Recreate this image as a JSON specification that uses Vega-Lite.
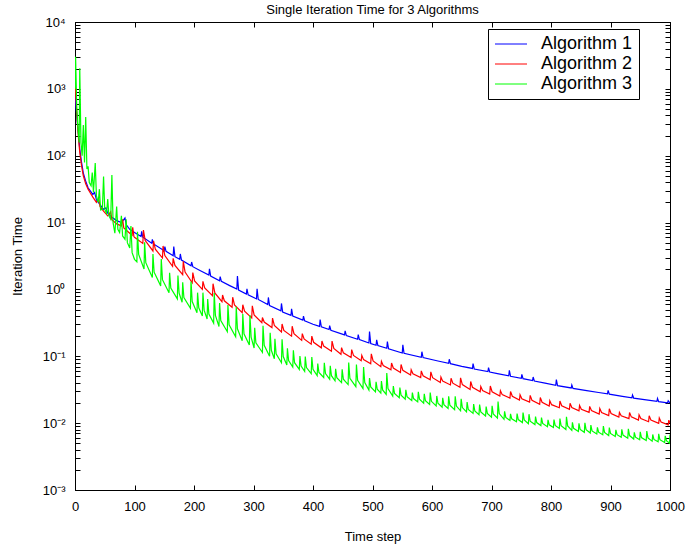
{
  "$schema": "https://vega.github.io/schema/vega-lite/v6.json",
  "autosize": "none",
  "width": 595,
  "height": 468,
  "padding": {"left": 75, "top": 22, "right": 16, "bottom": 58},
  "background": "white",
  "title": {"text": "Single Iteration Time for 3 Algorithms", "font": "Liberation Sans", "fontSize": 13, "fontWeight": "normal", "color": "black", "offset": -1},
  "datasets": {
    "a1": [
      {"t":0,"v":794},{"t":2,"v":501},{"t":4,"v":309},{"t":6,"v":200},{"t":8,"v":126},{"t":11,"v":79.4},{"t":14,"v":55.0},{"t":18,"v":41.7},{"t":22,"v":33.1},{"t":26,"v":29.5},{"t":30,"v":26.3},{"t":33,"v":28.2},{"t":36,"v":21.9},{"t":42,"v":18.6},{"t":48,"v":15.8},{"t":52,"v":16.6},{"t":55,"v":13.8},{"t":62,"v":12.0},{"t":70,"v":10.7},{"t":78,"v":10.0},{"t":84,"v":11.7},{"t":86,"v":9.33},{"t":92,"v":7.94},{"t":100,"v":7.08},
      {"t":111,"v":6.17},{"t":112,"v":7.41},{"t":114,"v":6.03},{"t":129,"v":4.90},{"t":130,"v":5.62},{"t":132,"v":4.79},{"t":150,"v":3.80},{"t":151,"v":4.37},{"t":153,"v":3.72},{"t":165,"v":3.20},{"t":166,"v":4.37},{"t":168,"v":3.09},{"t":176,"v":2.82},{"t":177,"v":3.39},{"t":179,"v":2.75},{"t":195,"v":2.26},{"t":196,"v":2.57},{"t":198,"v":2.19},{"t":210,"v":1.92},{"t":225,"v":1.64},{"t":226,"v":2.04},{"t":228,"v":1.58},{"t":243,"v":1.35},{"t":244,"v":1.55},{"t":246,"v":1.32},{"t":260,"v":1.14},{"t":272,"v":1.01},{"t":273,"v":1.58},{"t":275,"v":0.977},{"t":288,"v":0.851},{"t":289,"v":1.02},{"t":291,"v":0.832},
      {"t":305,"v":0.721},{"t":306,"v":1.02},{"t":308,"v":0.708},{"t":324,"v":0.594},{"t":325,"v":0.759},{"t":327,"v":0.575},{"t":346,"v":0.479},{"t":347,"v":0.617},{"t":349,"v":0.457},{"t":363,"v":0.410},{"t":364,"v":0.513},{"t":366,"v":0.398},{"t":383,"v":0.347},{"t":384,"v":0.398},{"t":386,"v":0.339},{"t":400,"v":0.302},{"t":411,"v":0.280},{"t":412,"v":0.355},{"t":414,"v":0.275},{"t":427,"v":0.251},{"t":428,"v":0.288},{"t":430,"v":0.245},{"t":453,"v":0.209},{"t":454,"v":0.240},{"t":456,"v":0.204},{"t":475,"v":0.180},{"t":476,"v":0.211},{"t":478,"v":0.178},{"t":494,"v":0.158},{"t":495,"v":0.234},{"t":497,"v":0.155},
      {"t":506,"v":0.146},{"t":507,"v":0.176},{"t":509,"v":0.145},{"t":524,"v":0.132},{"t":525,"v":0.166},{"t":527,"v":0.129},{"t":550,"v":0.112},{"t":551,"v":0.148},{"t":553,"v":0.111},{"t":582,"v":0.0968},{"t":583,"v":0.117},{"t":585,"v":0.0955},{"t":610,"v":0.0851},{"t":628,"v":0.0783},{"t":629,"v":0.0902},{"t":631,"v":0.0776},{"t":650,"v":0.0708},{"t":668,"v":0.0658},{"t":669,"v":0.0776},{"t":671,"v":0.0646},{"t":694,"v":0.0590},{"t":695,"v":0.0676},{"t":697,"v":0.0582},
      {"t":710,"v":0.0552},{"t":729,"v":0.0511},{"t":730,"v":0.0617},{"t":732,"v":0.0501},{"t":750,"v":0.0468},{"t":751,"v":0.0537},{"t":753,"v":0.0462},{"t":769,"v":0.0433},{"t":770,"v":0.0490},{"t":772,"v":0.0427},{"t":790,"v":0.0398},{"t":808,"v":0.0369},{"t":809,"v":0.0447},{"t":811,"v":0.0363},{"t":834,"v":0.0336},{"t":835,"v":0.0372},{"t":837,"v":0.0331},{"t":860,"v":0.0306},{"t":880,"v":0.0287},{"t":895,"v":0.0274},{"t":896,"v":0.0309},{"t":898,"v":0.0271},
      {"t":920,"v":0.0252},{"t":936,"v":0.0240},{"t":937,"v":0.0263},{"t":939,"v":0.0237},{"t":960,"v":0.0223},{"t":978,"v":0.0212},{"t":979,"v":0.0234},{"t":981,"v":0.0210},{"t":996,"v":0.0202},{"t":997,"v":0.0216},{"t":1000,"v":0.0200}
    ],
    "a2": [
      {"t":0,"v":1259},{"t":2,"v":631},{"t":4,"v":316},{"t":6,"v":178},{"t":8,"v":112},{"t":11,"v":70.8},{"t":14,"v":50.1},{"t":18,"v":38.0},{"t":22,"v":31.6},{"t":26,"v":27.5},{"t":30,"v":24.0},{"t":36,"v":20.0},{"t":40,"v":22.9},{"t":42,"v":17.4},{"t":48,"v":14.8},{"t":55,"v":12.6},{"t":60,"v":14.5},{"t":62,"v":11.0},{"t":70,"v":9.55},{"t":78,"v":8.91},{"t":80,"v":11.2},{"t":82,"v":8.32},{"t":92,"v":6.92},{"t":96,"v":6.46},{"t":97,"v":8.51},{"t":99,"v":6.17},{"t":100,"v":6.03},
      {"t":114,"v":4.88},{"t":115,"v":7.73},{"t":118,"v":5.38},{"t":131,"v":3.76},{"t":132,"v":5.31},{"t":135,"v":4.00},{"t":147,"v":2.95},{"t":148,"v":4.47},{"t":151,"v":3.21},{"t":164,"v":2.22},{"t":165,"v":2.92},{"t":168,"v":2.29},{"t":181,"v":1.66},{"t":182,"v":2.64},{"t":185,"v":1.82},{"t":197,"v":1.26},{"t":198,"v":1.79},{"t":201,"v":1.34},
      {"t":214,"v":1.00},{"t":215,"v":1.32},{"t":218,"v":1.05},{"t":231,"v":0.805},{"t":232,"v":1.22},{"t":235,"v":0.885},{"t":247,"v":0.656},{"t":248,"v":0.826},{"t":251,"v":0.676},{"t":264,"v":0.541},{"t":265,"v":0.764},{"t":268,"v":0.585},{"t":281,"v":0.448},{"t":282,"v":0.590},{"t":285,"v":0.472},{"t":297,"v":0.375},{"t":298,"v":0.568},{"t":301,"v":0.416},
      {"t":314,"v":0.317},{"t":315,"v":0.381},{"t":318,"v":0.325},{"t":331,"v":0.269},{"t":332,"v":0.372},{"t":335,"v":0.290},{"t":347,"v":0.231},{"t":348,"v":0.304},{"t":351,"v":0.244},{"t":364,"v":0.200},{"t":365,"v":0.282},{"t":368,"v":0.218},{"t":381,"v":0.173},{"t":382,"v":0.218},{"t":385,"v":0.182},{"t":397,"v":0.152},{"t":398,"v":0.200},{"t":401,"v":0.162},
      {"t":414,"v":0.134},{"t":415,"v":0.169},{"t":418,"v":0.142},{"t":431,"v":0.119},{"t":432,"v":0.169},{"t":435,"v":0.131},{"t":447,"v":0.107},{"t":448,"v":0.135},{"t":451,"v":0.113},{"t":464,"v":0.0957},{"t":465,"v":0.126},{"t":468,"v":0.103},{"t":481,"v":0.0857},{"t":482,"v":0.103},{"t":485,"v":0.0891},{"t":497,"v":0.0773},{"t":498,"v":0.109},{"t":501,"v":0.0851},
      {"t":514,"v":0.0698},{"t":515,"v":0.0839},{"t":518,"v":0.0726},{"t":531,"v":0.0630},{"t":532,"v":0.0793},{"t":535,"v":0.0667},{"t":547,"v":0.0573},{"t":548,"v":0.0755},{"t":551,"v":0.0617},{"t":564,"v":0.0524},{"t":565,"v":0.0630},{"t":568,"v":0.0547},{"t":581,"v":0.0481},{"t":582,"v":0.0605},{"t":585,"v":0.0511},{"t":597,"v":0.0444},{"t":598,"v":0.0585},{"t":601,"v":0.0479},
      {"t":614,"v":0.0406},{"t":615,"v":0.0489},{"t":618,"v":0.0425},{"t":631,"v":0.0373},{"t":632,"v":0.0470},{"t":635,"v":0.0396},{"t":647,"v":0.0344},{"t":648,"v":0.0475},{"t":651,"v":0.0378},{"t":664,"v":0.0318},{"t":665,"v":0.0419},{"t":668,"v":0.0344},{"t":681,"v":0.0294},{"t":682,"v":0.0353},{"t":685,"v":0.0308},{"t":697,"v":0.0273},{"t":698,"v":0.0360},{"t":701,"v":0.0295},
      {"t":714,"v":0.0254},{"t":715,"v":0.0305},{"t":718,"v":0.0267},{"t":731,"v":0.0237},{"t":732,"v":0.0298},{"t":735,"v":0.0252},{"t":747,"v":0.0221},{"t":748,"v":0.0266},{"t":751,"v":0.0232},{"t":764,"v":0.0207},{"t":765,"v":0.0260},{"t":768,"v":0.0220},{"t":781,"v":0.0192},{"t":782,"v":0.0242},{"t":785,"v":0.0205},{"t":797,"v":0.0180},{"t":798,"v":0.0216},{"t":801,"v":0.0189},
      {"t":814,"v":0.0170},{"t":815,"v":0.0214},{"t":818,"v":0.0182},{"t":831,"v":0.0161},{"t":832,"v":0.0198},{"t":835,"v":0.0171},{"t":847,"v":0.0153},{"t":848,"v":0.0184},{"t":851,"v":0.0161},{"t":864,"v":0.0145},{"t":865,"v":0.0178},{"t":868,"v":0.0154},{"t":881,"v":0.0137},{"t":882,"v":0.0165},{"t":885,"v":0.0144},{"t":897,"v":0.0130},{"t":898,"v":0.0164},{"t":901,"v":0.0139},
      {"t":914,"v":0.0123},{"t":915,"v":0.0145},{"t":918,"v":0.0129},{"t":931,"v":0.0117},{"t":932,"v":0.0144},{"t":935,"v":0.0124},{"t":947,"v":0.0111},{"t":948,"v":0.0133},{"t":951,"v":0.0117},{"t":964,"v":0.0105},{"t":965,"v":0.0129},{"t":968,"v":0.0111},{"t":981,"v":0.00993},{"t":982,"v":0.0119},{"t":985,"v":0.0104},{"t":997,"v":0.00942},{"t":998,"v":0.0111},{"t":1000,"v":0.0100}
    ],
    "a3": [
      {"t":0,"v":1000},{"t":1,"v":3020},{"t":3,"v":501},{"t":5,"v":251},{"t":7,"v":158},{"t":8,"v":2040},{"t":10,"v":158},{"t":12,"v":100},{"t":14,"v":288},{"t":16,"v":79.4},{"t":18,"v":380},{"t":20,"v":63.1},{"t":22,"v":69.2},{"t":24,"v":39.8},{"t":27,"v":35.5},{"t":29,"v":56.2},{"t":31,"v":28.2},{"t":34,"v":77.6},{"t":36,"v":25.1},{"t":39,"v":20.0},{"t":41,"v":31.6},{"t":43,"v":15.5},{"t":46,"v":15.8},{"t":48,"v":49.0},{"t":50,"v":15.8},{"t":53,"v":13.8},{"t":55,"v":22.4},{"t":57,"v":12.6},{"t":60,"v":11.2},{"t":62,"v":51.3},{"t":64,"v":10.0},{"t":67,"v":6.92},{"t":70,"v":17.4},{"t":72,"v":7.94},{"t":75,"v":7.08},{"t":78,"v":12.6},{"t":80,"v":6.31},{"t":84,"v":5.62},{"t":86,"v":11.2},{"t":88,"v":5.01},{"t":92,"v":4.17},{"t":94,"v":8.91},{"t":96,"v":3.55},{"t":100,"v":2.82},
      {"t":104,"v":2.59},{"t":105,"v":7.31},{"t":107,"v":3.33},{"t":116,"v":2.02},{"t":117,"v":5.08},{"t":119,"v":2.51},{"t":130,"v":1.51},{"t":131,"v":3.39},{"t":133,"v":1.81},{"t":144,"v":1.13},{"t":145,"v":2.84},{"t":147,"v":1.40},{"t":158,"v":0.889},{"t":159,"v":1.77},{"t":161,"v":1.05},{"t":172,"v":0.723},{"t":173,"v":1.62},{"t":175,"v":0.881},{"t":180,"v":0.643},{"t":181,"v":1.28},{"t":183,"v":0.757},{"t":194,"v":0.522},{"t":195,"v":1.31},{"t":197,"v":0.659},
      {"t":205,"v":0.449},{"t":206,"v":0.895},{"t":208,"v":0.531},{"t":214,"v":0.400},{"t":215,"v":0.895},{"t":217,"v":0.490},{"t":222,"v":0.361},{"t":223,"v":0.719},{"t":225,"v":0.427},{"t":233,"v":0.313},{"t":234,"v":0.881},{"t":236,"v":0.410},{"t":242,"v":0.279},{"t":243,"v":0.624},{"t":245,"v":0.341},{"t":256,"v":0.233},{"t":257,"v":0.586},{"t":259,"v":0.296},{"t":270,"v":0.196},{"t":271,"v":0.552},{"t":273,"v":0.258},{"t":281,"v":0.171},{"t":282,"v":0.430},{"t":284,"v":0.217},{"t":293,"v":0.147},{"t":294,"v":0.415},{"t":296,"v":0.194},
      {"t":301,"v":0.133},{"t":302,"v":0.266},{"t":304,"v":0.159},{"t":315,"v":0.114},{"t":316,"v":0.287},{"t":318,"v":0.146},{"t":327,"v":0.100},{"t":328,"v":0.224},{"t":330,"v":0.123},{"t":335,"v":0.0916},{"t":336,"v":0.183},{"t":338,"v":0.109},{"t":347,"v":0.0802},{"t":348,"v":0.179},{"t":350,"v":0.0989},{"t":356,"v":0.0743},{"t":357,"v":0.132},{"t":359,"v":0.0863},{"t":366,"v":0.0690},{"t":367,"v":0.123},{"t":369,"v":0.0802},{"t":377,"v":0.0637},{"t":378,"v":0.101},{"t":380,"v":0.0714},{"t":386,"v":0.0596},{"t":387,"v":0.0989},{"t":389,"v":0.0678},{"t":397,"v":0.0550},{"t":398,"v":0.0977},{"t":400,"v":0.0638},
      {"t":407,"v":0.0515},{"t":408,"v":0.0780},{"t":410,"v":0.0573},{"t":418,"v":0.0482},{"t":419,"v":0.0800},{"t":421,"v":0.0551},{"t":428,"v":0.0454},{"t":429,"v":0.0719},{"t":431,"v":0.0512},{"t":437,"v":0.0431},{"t":438,"v":0.0652},{"t":440,"v":0.0479},{"t":448,"v":0.0403},{"t":449,"v":0.0638},{"t":451,"v":0.0455},{"t":459,"v":0.0378},{"t":460,"v":0.0809},{"t":462,"v":0.0469},{"t":472,"v":0.0352},{"t":473,"v":0.0753},{"t":475,"v":0.0437},{"t":484,"v":0.0330},{"t":485,"v":0.0689},{"t":487,"v":0.0405},{"t":494,"v":0.0312},{"t":495,"v":0.0472},{"t":497,"v":0.0348},
      {"t":505,"v":0.0294},{"t":506,"v":0.0416},{"t":508,"v":0.0321},{"t":514,"v":0.0281},{"t":515,"v":0.0426},{"t":517,"v":0.0314},{"t":523,"v":0.0269},{"t":524,"v":0.0561},{"t":526,"v":0.0330},{"t":534,"v":0.0254},{"t":535,"v":0.0359},{"t":537,"v":0.0278},{"t":545,"v":0.0240},{"t":546,"v":0.0340},{"t":548,"v":0.0262},{"t":555,"v":0.0229},{"t":556,"v":0.0316},{"t":558,"v":0.0249},{"t":566,"v":0.0218},{"t":567,"v":0.0287},{"t":569,"v":0.0233},{"t":576,"v":0.0208},{"t":577,"v":0.0294},{"t":579,"v":0.0228},{"t":586,"v":0.0199},{"t":587,"v":0.0274},{"t":589,"v":0.0216},{"t":596,"v":0.0190},{"t":597,"v":0.0287},{"t":599,"v":0.0212},
      {"t":607,"v":0.0181},{"t":608,"v":0.0255},{"t":610,"v":0.0198},{"t":617,"v":0.0173},{"t":618,"v":0.0239},{"t":620,"v":0.0189},{"t":627,"v":0.0166},{"t":628,"v":0.0252},{"t":630,"v":0.0186},{"t":638,"v":0.0159},{"t":639,"v":0.0252},{"t":641,"v":0.0180},{"t":648,"v":0.0153},{"t":649,"v":0.0231},{"t":651,"v":0.0171},{"t":658,"v":0.0147},{"t":659,"v":0.0207},{"t":661,"v":0.0160},{"t":669,"v":0.0140},{"t":670,"v":0.0193},{"t":672,"v":0.0152},{"t":679,"v":0.0134},{"t":680,"v":0.0190},{"t":682,"v":0.0147},{"t":690,"v":0.0128},{"t":691,"v":0.0177},{"t":693,"v":0.0140},
      {"t":700,"v":0.0123},{"t":701,"v":0.0182},{"t":703,"v":0.0137},{"t":710,"v":0.0119},{"t":711,"v":0.0211},{"t":713,"v":0.0139},{"t":721,"v":0.0114},{"t":722,"v":0.0150},{"t":724,"v":0.0122},{"t":731,"v":0.0110},{"t":732,"v":0.0138},{"t":734,"v":0.0116},{"t":742,"v":0.0105},{"t":743,"v":0.0139},{"t":745,"v":0.0113},{"t":752,"v":0.0102},{"t":753,"v":0.0144},{"t":755,"v":0.0112},{"t":762,"v":0.00984},{"t":763,"v":0.0136},{"t":765,"v":0.0107},{"t":773,"v":0.00951},{"t":774,"v":0.0125},{"t":776,"v":0.0102},{"t":783,"v":0.00920},{"t":784,"v":0.0121},{"t":786,"v":0.00991},{"t":794,"v":0.00887},{"t":795,"v":0.0112},{"t":797,"v":0.00942},
      {"t":804,"v":0.00859},{"t":805,"v":0.0113},{"t":807,"v":0.00925},{"t":814,"v":0.00832},{"t":815,"v":0.0117},{"t":817,"v":0.00914},{"t":825,"v":0.00804},{"t":826,"v":0.0124},{"t":828,"v":0.00908},{"t":835,"v":0.00778},{"t":836,"v":0.0103},{"t":838,"v":0.00838},{"t":846,"v":0.00752},{"t":847,"v":0.00991},{"t":849,"v":0.00807},{"t":856,"v":0.00729},{"t":857,"v":0.0101},{"t":859,"v":0.00796},{"t":866,"v":0.00710},{"t":867,"v":0.00935},{"t":869,"v":0.00764},{"t":877,"v":0.00689},{"t":878,"v":0.00867},{"t":880,"v":0.00731},{"t":887,"v":0.00670},{"t":888,"v":0.00904},{"t":890,"v":0.00726},{"t":897,"v":0.00652},{"t":898,"v":0.00859},{"t":900,"v":0.00701},
      {"t":908,"v":0.00631},{"t":909,"v":0.00794},{"t":911,"v":0.00671},{"t":918,"v":0.00614},{"t":919,"v":0.00809},{"t":921,"v":0.00662},{"t":929,"v":0.00596},{"t":930,"v":0.00822},{"t":932,"v":0.00652},{"t":939,"v":0.00579},{"t":940,"v":0.00729},{"t":942,"v":0.00617},{"t":949,"v":0.00564},{"t":950,"v":0.00743},{"t":952,"v":0.00608},{"t":960,"v":0.00550},{"t":961,"v":0.00759},{"t":963,"v":0.00601},{"t":970,"v":0.00537},{"t":971,"v":0.00676},{"t":973,"v":0.00571},{"t":980,"v":0.00525},{"t":981,"v":0.00692},{"t":983,"v":0.00566},{"t":991,"v":0.00512},{"t":992,"v":0.00644},{"t":994,"v":0.00545},{"t":999,"v":0.00502},{"t":1000,"v":0.00678}
    ]
  },
  "layer": [
    {
      "layer": [
        {
          "data": {"name": "a1"},
          "mark": {"type": "line", "strokeWidth": 1.2, "clip": true},
          "encoding": {
            "x": {"field": "t", "type": "quantitative", "scale": {"domain": [0, 1000], "nice": false, "zero": false},
              "axis": {"orient": "bottom", "values": [0,100,200,300,400,500,600,700,800,900,1000], "format": "d", "tickSize": -5, "labelPadding": 15, "labelFlush": false, "grid": false, "title": "Time step", "titlePadding": 17}},
            "y": {"field": "v", "type": "quantitative", "scale": {"type": "log", "domain": [0.001, 10000], "nice": false},
              "axis": {"orient": "left", "values": [0.001,0.002,0.003,0.004,0.005,0.006,0.007,0.008,0.009,0.01,0.02,0.03,0.04,0.05,0.06,0.07,0.08,0.09,0.1,0.2,0.3,0.4,0.5,0.6,0.7,0.8,0.9,1,2,3,4,5,6,7,8,9,10,20,30,40,50,60,70,80,90,100,200,300,400,500,600,700,800,900,1000,2000,3000,4000,5000,6000,7000,8000,9000,10000],
                "labelExpr": "abs(log(datum.value)/LN10 - round(log(datum.value)/LN10)) < 0.01 ? ['10⁻³','10⁻²','10⁻¹','10⁰','10¹','10²','10³','10⁴'][round(log(datum.value)/LN10)+3] : ''",
                "tickSize": -5, "labelPadding": 15, "labelOverlap": false, "grid": false, "title": "Iteration Time", "titlePadding": 18}},
            "color": {"datum": "Algorithm 1", "type": "nominal",
              "scale": {"domain": ["Algorithm 1", "Algorithm 2", "Algorithm 3"], "range": ["#0000ff", "#ff0000", "#00ff00"]},
              "legend": {"title": null, "orient": "none", "legendX": 413, "legendY": 7, "symbolType": "M-1,0H3", "symbolSize": 256, "symbolStrokeWidth": 1, "labelFont": "Liberation Sans", "labelFontSize": 18, "labelColor": "black", "labelOffset": 29, "padding": 6, "rowPadding": 2, "strokeColor": "black", "fillColor": "white"}}
          }
        },
        {
          "data": {"name": "a2"},
          "mark": {"type": "line", "strokeWidth": 1.2, "clip": true},
          "encoding": {
            "x": {"field": "t", "type": "quantitative"},
            "y": {"field": "v", "type": "quantitative"},
            "color": {"datum": "Algorithm 2", "type": "nominal"}
          }
        },
        {
          "data": {"name": "a3"},
          "mark": {"type": "line", "strokeWidth": 1.2, "clip": true},
          "encoding": {
            "x": {"field": "t", "type": "quantitative"},
            "y": {"field": "v", "type": "quantitative"},
            "color": {"datum": "Algorithm 3", "type": "nominal"}
          }
        }
      ]
    },
    {
      "data": {"name": "a1"},
      "mark": {"type": "point", "opacity": 0},
      "encoding": {
        "x": {"field": "t", "type": "quantitative", "axis": {"orient": "top", "values": [0,100,200,300,400,500,600,700,800,900,1000], "tickSize": -5, "labels": false, "grid": false, "title": null}},
        "y": {"field": "v", "type": "quantitative", "axis": {"orient": "right", "values": [0.001,0.002,0.003,0.004,0.005,0.006,0.007,0.008,0.009,0.01,0.02,0.03,0.04,0.05,0.06,0.07,0.08,0.09,0.1,0.2,0.3,0.4,0.5,0.6,0.7,0.8,0.9,1,2,3,4,5,6,7,8,9,10,20,30,40,50,60,70,80,90,100,200,300,400,500,600,700,800,900,1000,2000,3000,4000,5000,6000,7000,8000,9000,10000], "tickSize": -5, "labels": false, "grid": false, "title": null}}
      }
    }
  ],
  "resolve": {"axis": {"x": "independent", "y": "independent"}},
  "config": {
    "font": "Liberation Sans",
    "view": {"stroke": "black", "strokeWidth": 1},
    "axis": {"domainColor": "black", "tickColor": "black", "labelColor": "black", "titleColor": "black", "labelFont": "Liberation Sans", "labelFontSize": 13, "titleFont": "Liberation Sans", "titleFontSize": 13, "titleFontWeight": "normal", "domainWidth": 1, "tickWidth": 1}
  }
}
